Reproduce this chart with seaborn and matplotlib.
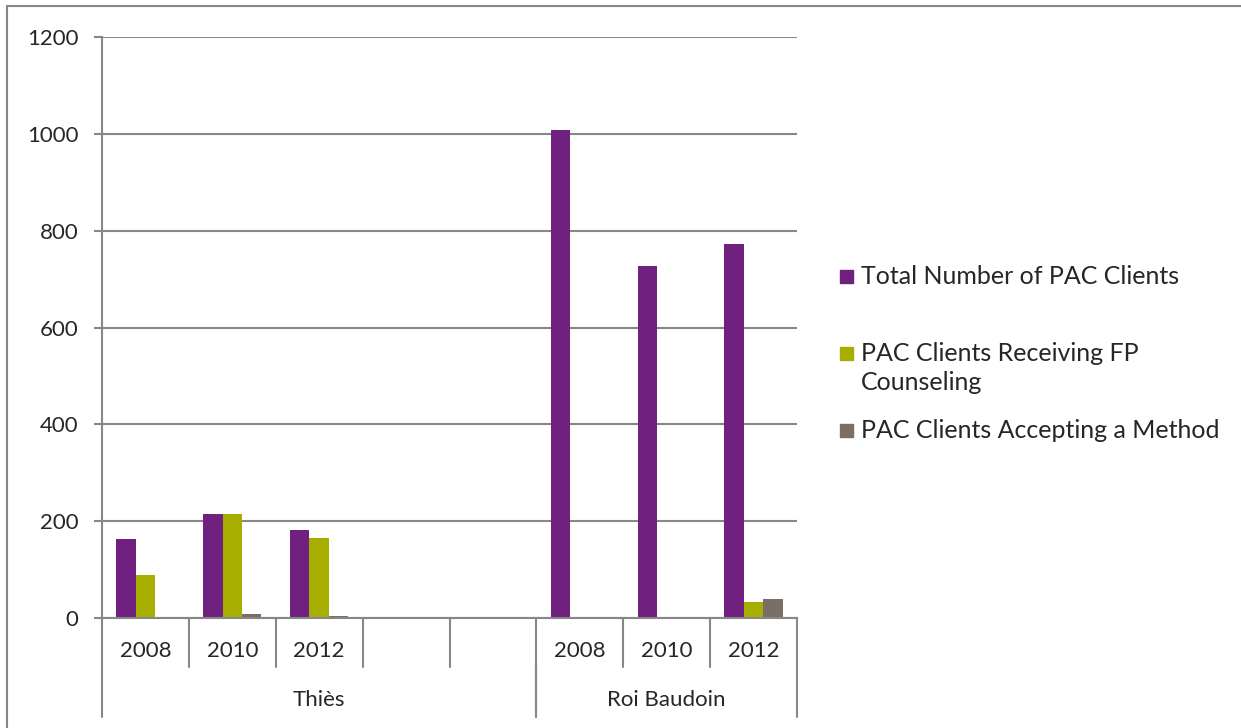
import pandas as pd
import seaborn as sns
import matplotlib.pyplot as plt
from matplotlib.lines import Line2D
from matplotlib.patches import Rectangle

# values
year_labels = ["2008", "2010", "2012", "", "", "2008", "2010", "2012"]
group_labels = ["Thiès", "Roi Baudoin"]
group_spans = [5, 3]
series = ["Total Number of PAC Clients",
          "PAC Clients Receiving FP Counseling",
          "PAC Clients Accepting a Method"]
legend_lines = [["Total Number of PAC Clients"],
                ["PAC Clients Receiving FP", "Counseling"],
                ["PAC Clients Accepting a Method"]]
total_clients = [164, 215, 182, None, None, 1007, 726, 773]
fp_counseling = [89, 215, 166, None, None, 0, 0, 33]
accepting_method = [2, 8, 5, None, None, 0, 0, 39]
colors = ["#70207F", "#A8AE00", "#7A6F66"]
yticks = [0, 200, 400, 600, 800, 1000, 1200]

slots = [str(i) for i in range(len(year_labels))]
rows = []
for name, vals in zip(series, [total_clients, fp_counseling, accepting_method]):
    for s, v in zip(slots, vals):
        if v is not None:
            rows.append({"slot": s, "series": name, "value": v})
df = pd.DataFrame(rows)

sns.set_style("white")
plt.rcParams["font.family"] = ["Lato", "DejaVu Sans"]
gray = "#878787"
W, H = 1241, 728

fig = plt.figure(figsize=(W / 100, H / 100), dpi=100)
ax = fig.add_axes([102 / W, 1 - 618 / H, (797 - 102) / W, (618 - 37) / H])

sns.barplot(data=df, x="slot", y="value", hue="series", order=slots,
            hue_order=series, palette=colors, width=0.67, saturation=1,
            edgecolor="none", legend=False, ax=ax)

ax.set_ylim(0, 1200)
ax.set_xlim(-0.5, len(slots) - 0.5)
ax.set_yticks(yticks)
ax.set_yticklabels([str(t) for t in yticks])
ax.yaxis.grid(True, color=gray, linewidth=1.5)
ax.set_axisbelow(True)
ax.set_xticks([])
ax.set_xlabel("")
ax.set_ylabel("")
ax.tick_params(axis="y", direction="out", length=6, width=1.5, color=gray,
               pad=11, labelsize=16, left=True)

for sp in ["top", "right"]:
    ax.spines[sp].set_visible(False)
for sp in ["left", "bottom"]:
    ax.spines[sp].set_color(gray)
    ax.spines[sp].set_linewidth(1.5)

# multi-level category axis
tr = ax.get_xaxis_transform()
h = 581.0
lvl1 = -49 / h
lvl2 = -99 / h
for i in range(len(slots) + 1):
    ax.add_line(Line2D([i - 0.5, i - 0.5], [0, lvl1], transform=tr, color=gray,
                       linewidth=1.5, clip_on=False))
for i, lab in enumerate(year_labels):
    ax.text(i, -33 / h, lab, transform=tr, ha="center", va="center", fontsize=16)
start = 0
for g, span in zip(group_labels, group_spans):
    for edge in [start, start + span]:
        ax.add_line(Line2D([edge - 0.5, edge - 0.5], [lvl1, lvl2], transform=tr,
                           color=gray, linewidth=1.5, clip_on=False))
    ax.text(start + span / 2 - 0.5, -82 / h, g, transform=tr, ha="center",
            va="center", fontsize=16)
    start += span

# legend drawn by hand to keep the uneven spacing of the original
leg_y = [[276], [353, 383], [430]]
for c, lines, ys in zip(colors, legend_lines, leg_y):
    fig.add_artist(Rectangle((840 / W, 1 - (ys[0] + 7) / H), 13 / W, 13 / H,
                             transform=fig.transFigure, color=c))
    for txt, yy in zip(lines, ys):
        fig.text(861 / W, 1 - yy / H, txt, ha="left", va="center", fontsize=18)

# outer chart border
fig.add_artist(Line2D([7 / W, 7 / W], [0, 1 - 6 / H], color=gray, linewidth=1.5))
fig.add_artist(Line2D([7 / W, 1], [1 - 6 / H, 1 - 6 / H], color=gray, linewidth=1.5))

fig.savefig("out.png", dpi=100)
